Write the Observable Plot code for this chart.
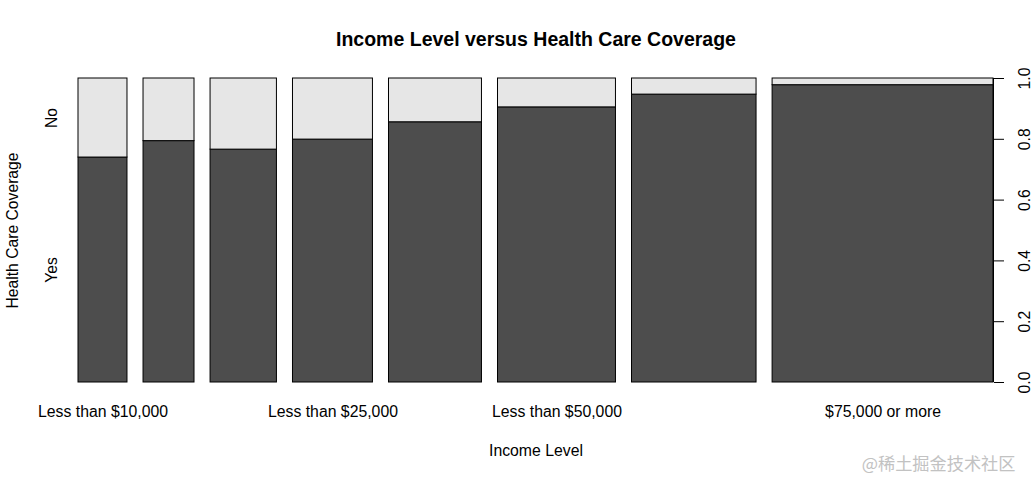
<!DOCTYPE html>
<html>
<head>
<meta charset="utf-8">
<script src="https://cdn.jsdelivr.net/npm/d3@7"></script>
<script src="https://cdn.jsdelivr.net/npm/@observablehq/plot@0.6"></script>
<style>
  body { margin: 0; background: #fff; }
  #chart { width: 1034px; height: 480px; }
</style>
</head>
<body>
<div id="chart"></div>
<script>
// ---- data ----
const categories = [
  "Less than $10,000", "Less than $15,000", "Less than $20,000", "Less than $25,000",
  "Less than $35,000", "Less than $50,000", "Less than $75,000", "$75,000 or more"
];
// relative frequencies of each income level (bar widths)
const counts = [49, 51, 66.4, 80, 93, 118, 124.6, 221];
// share of "Yes" (has health care coverage) within each income level
const yesShare = [0.740, 0.794, 0.766, 0.799, 0.856, 0.905, 0.947, 0.978];
const coverageLevels = ["Yes", "No"];
const shownLabels = ["Less than $10,000", "Less than $25,000", "Less than $50,000", "$75,000 or more"];
const yTicks = [0, 0.2, 0.4, 0.6, 0.8, 1.0];
const titleText = "Income Level versus Health Care Coverage";
const xTitle = "Income Level";
const yTitle = "Health Care Coverage";
const watermark = "@稀土掘金技术社区";

// ---- spineplot layout (R spineplot: gap = 2% of total) ----
const gap = 0.02;
const total = d3.sum(counts);
let cursor = 0;
const bars = categories.map((c, i) => {
  const w = counts[i] / total;
  const b = {category: c, x1: cursor, x2: cursor + w, yes: yesShare[i]};
  cursor += w + gap;
  return b;
});
const xMax = 1 + gap * (categories.length - 1);
const segments = bars.flatMap(b => [
  {...b, level: coverageLevels[0], y1: 0, y2: b.yes},
  {...b, level: coverageLevels[1], y1: b.yes, y2: 1}
]);
const firstBarSegments = segments.filter(s => s.category === categories[0]);
const labelBars = bars.filter(b => shownLabels.includes(b.category));

const font = "'Liberation Sans', Arial, Helvetica, sans-serif";

const chart = Plot.plot({
  width: 1034,
  height: 480,
  marginLeft: 78,
  marginRight: 41,
  marginTop: 78,
  marginBottom: 98,
  style: {fontFamily: font, background: "#fff", color: "#000"},
  x: {domain: [0, xMax], axis: null},
  y: {domain: [0, 1], axis: null},
  color: {domain: coverageLevels, range: ["#4d4d4d", "#e6e6e6"]},
  marks: [
    Plot.rect(segments, {x1: "x1", x2: "x2", y1: "y1", y2: "y2", fill: "level", stroke: "#000", strokeWidth: 1}),
    // right axis
    Plot.ruleX([xMax], {y1: 0, y2: 1, stroke: "#000", strokeWidth: 1}),
    Plot.axisY(yTicks, {anchor: "right", tickSize: 10, tickFormat: () => "", label: null, stroke: "#000", strokeOpacity: 1}),
    Plot.text(yTicks, {x: () => xMax, y: d => d, text: d => d.toFixed(1), rotate: -90, dx: 36.5, lineAnchor: "bottom", textAnchor: "middle", fontSize: 15.7, fill: "#000"}),
    // category labels
    Plot.text(labelBars, {x: d => (d.x1 + d.x2) / 2, y: () => 0, text: "category", dy: 34.5, lineAnchor: "bottom", textAnchor: "middle", fontSize: 15.8, fill: "#000"}),
    // left level labels
    Plot.text(firstBarSegments, {x: "x1", y: d => (d.y1 + d.y2) / 2, text: "level", rotate: -90, dx: -22, lineAnchor: "bottom", textAnchor: "middle", fontSize: 15.7, fill: "#000"}),
    // titles
    Plot.text([titleText], {frameAnchor: "top", dy: -32.5, lineAnchor: "bottom", fontWeight: "bold", fontSize: 19.5, fill: "#000"}),
    Plot.text([xTitle], {frameAnchor: "bottom", dy: 73.5, lineAnchor: "bottom", fontSize: 15.8, fill: "#000"}),
    Plot.text([yTitle], {frameAnchor: "left", dx: -61, rotate: -90, lineAnchor: "bottom", textAnchor: "middle", fontSize: 15.7, fill: "#000"}),
    Plot.text([watermark], {frameAnchor: "bottom-right", dx: 22, dy: 87, lineAnchor: "bottom", textAnchor: "end", fontSize: 17.2, fill: "#c2c2c2", fontFamily: "'Noto Sans CJK SC', sans-serif"})
  ]
});
document.getElementById("chart").appendChild(chart);
</script>
</body>
</html>
